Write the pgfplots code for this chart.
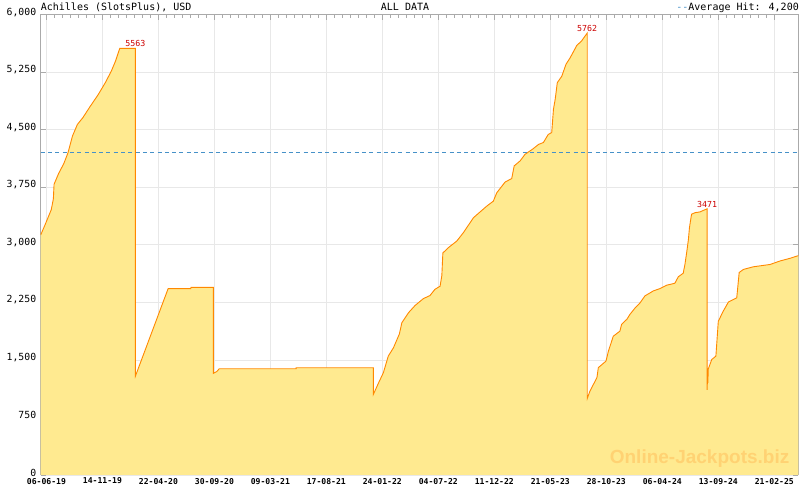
\documentclass[border=0pt]{standalone}
\usepackage{pgfplots}
\pgfplotsset{compat=1.18}
\usepackage{pgfplotstable}
\usepackage{fontspec}
\setmainfont{DejaVu Sans Mono}
\newfontfamily\wmfont{Liberation Sans}
\definecolor{fillY}{RGB}{255,234,144}
\definecolor{lineO}{RGB}{255,136,0}
\definecolor{gridc}{RGB}{232,232,232}
\definecolor{axisc}{RGB}{170,170,170}
\definecolor{avgc}{RGB}{70,145,200}
\definecolor{peakc}{RGB}{204,0,0}
\definecolor{wmc}{RGB}{255,210,115}
\pgfplotsset{layers/mylayers/.define layer set={axis background,axis grid,main,axis ticks,axis lines,axis tick labels,axis descriptions,axis foreground}{}}
\pgfplotstableread{
day val
-16.4 3130
-5 3250
5 3360
14 3460
20 3600
22 3790
35 3930
50 4060
62 4200
75 4420
89 4570
105 4660
125 4800
149 4960
170 5120
187 5270
199 5400
211 5563
256 5563
256 1290
350 2430
415 2430
416 2447
480 2447
480 1325
490 1350
497 1385
718 1385
718 1398
940 1398
940 1050
955 1200
969 1335
983 1550
998 1660
1015 1840
1022 1985
1041 2115
1060 2210
1084 2300
1103 2340
1117 2420
1132 2462
1137 2600
1140 2895
1156 2965
1180 3050
1199 3160
1228 3355
1247 3430
1266 3505
1285 3570
1295 3680
1319 3820
1338 3865
1345 4030
1362 4095
1376 4180
1400 4255
1415 4310
1429 4335
1443 4440
1453 4465
1458 4770
1463 4900
1469 5115
1482 5200
1494 5355
1506 5440
1525 5600
1539 5660
1555 5762
1555 995
1563 1095
1583 1270
1587 1400
1609 1485
1616 1615
1630 1810
1649 1875
1654 1965
1669 2030
1678 2095
1693 2180
1707 2245
1721 2335
1745 2400
1764 2430
1784 2475
1807 2500
1817 2585
1831 2630
1836 2745
1841 2900
1846 3070
1849 3225
1855 3400
1865 3420
1879 3430
1900 3471
1900 1111
1901 1341
1902 1200
1903 1380
1913 1505
1925 1550
1932 2005
1946 2135
1961 2255
1985 2310
1992 2640
2004 2680
2033 2715
2081 2745
2109 2790
2138 2825
2162 2860
}\jackpot
\begin{document}
\begin{tikzpicture}
\begin{axis}[
  set layers=mylayers,
  at={(40.7bp,15bp)}, anchor=south west,
  scale only axis, width=757.6bp, height=460.2bp,
  xmin=-16.4, xmax=2162, ymin=0, ymax=6000,
  xtick={0,161,322,483,644,805,966,1127,1288,1449,1610,1771,1932,2093},
  xticklabels={06-06-19,14-11-19,22-04-20,30-09-20,09-03-21,17-08-21,24-01-22,04-07-22,11-12-22,21-05-23,28-10-23,06-04-24,13-09-24,21-02-25},
  minor x tick num=6,
  ytick={0,750,...,6000},
  grid=major,
  major grid style={draw=gridc, line width=0.8bp},
  tick align=inside,
  tick style={draw=axisc, line width=0.8bp},
  major tick length=5bp, minor tick length=3bp,
  axis line style={draw=axisc, line width=1bp},
  yticklabel style={font=\fontsize{9.8bp}{11bp}\selectfont, xshift=-1bp, yshift=2.5bp},
  xticklabel style={font=\fontsize{8.1bp}{10bp}\selectfont\bfseries, yshift=0.5bp},
  /pgf/number format/assume math mode=true,
  /pgf/number format/1000 sep={,},
]
\addplot[fill=fillY, draw=none] table[x=day,y=val] {\jackpot} \closedcycle;
\addplot[draw=lineO, line width=0.9bp] table[x=day,y=val] {\jackpot};
\addplot[draw=avgc, line width=0.75bp, dash pattern=on 4bp off 3.3bp] coordinates {(-16.4,4200) (2162,4200)};
\node[anchor=south, text=peakc, font=\fontsize{8.3bp}{9bp}\selectfont, inner sep=1.2bp] at (axis cs:256,5563) {5563};
\node[anchor=south, text=peakc, font=\fontsize{8.3bp}{9bp}\selectfont, inner sep=1.2bp] at (axis cs:1555,5762) {5762};
\node[anchor=south, text=peakc, font=\fontsize{8.3bp}{9bp}\selectfont, inner sep=1.2bp] at (axis cs:1900,3471) {3471};
\end{axis}
\node[anchor=base west, inner sep=0, font=\fontsize{10bp}{12bp}\selectfont] at (40.7bp,479.3bp) {Achilles (SlotsPlus), USD};
\node[anchor=base, inner sep=0, font=\fontsize{10bp}{12bp}\selectfont] at (405bp,479.3bp) {ALL DATA};
\node[anchor=base east, inner sep=0, font=\fontsize{10bp}{12bp}\selectfont] at (799bp,479.3bp) {\textcolor{avgc}{-{}-}Average Hit: 4,200};
\node[anchor=base east, inner sep=0, text=wmc, font=\wmfont\bfseries\fontsize{19bp}{21bp}\selectfont] at (789.5bp,27bp) {Online-Jackpots.biz};
\pgfresetboundingbox
\path[use as bounding box] (0,0) rectangle (800bp,490bp);
\end{tikzpicture}
\end{document}
